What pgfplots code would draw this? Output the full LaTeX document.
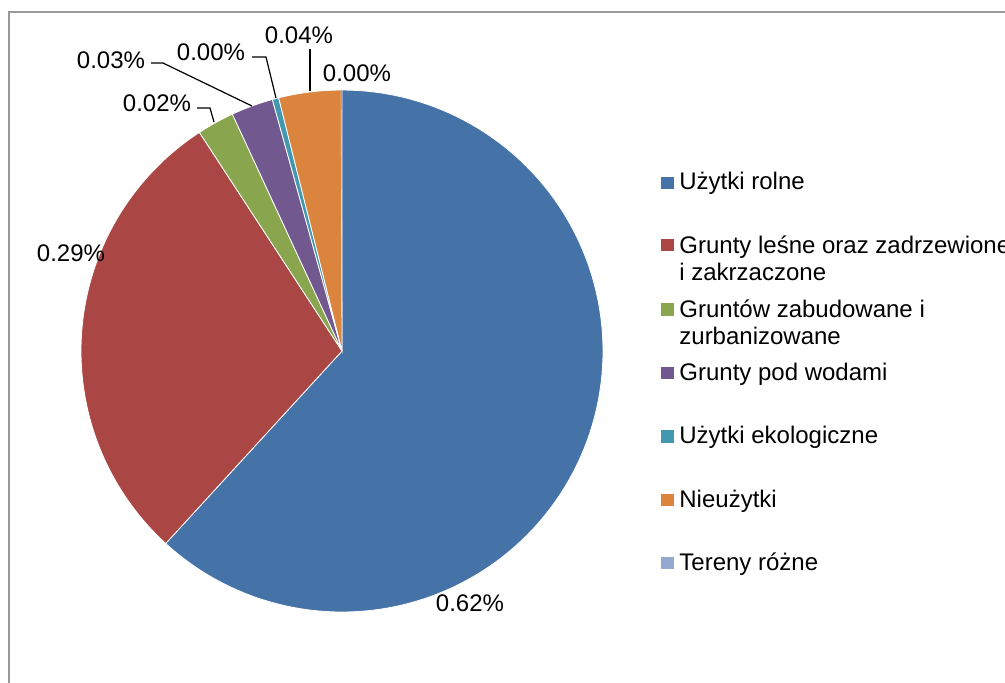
\documentclass[border=0pt]{standalone}
\usepackage{pgfplots}
\pgfplotsset{compat=1.18}
\usepackage{fontspec}
\setmainfont{Liberation Sans}
\definecolor{cA}{HTML}{4572A7}
\definecolor{cB}{HTML}{AA4643}
\definecolor{cC}{HTML}{89A54E}
\definecolor{cD}{HTML}{71588F}
\definecolor{cE}{HTML}{4198AF}
\definecolor{cF}{HTML}{DB843D}
\definecolor{cG}{HTML}{93A9CF}
% shares (percent) of each category
\def\vA{61.8}  % Uzytki rolne
\def\vB{29.0}  % Grunty lesne
\def\vC{2.3}   % zabudowane
\def\vD{2.6}   % pod wodami
\def\vE{0.4}   % ekologiczne
\def\vF{3.85}  % Nieuzytki
\def\vG{0.05}  % Tereny rozne
\pgfmathsetmacro\tA{90}
\pgfmathsetmacro\tB{\tA-3.6*\vA}
\pgfmathsetmacro\tC{\tB-3.6*\vB}
\pgfmathsetmacro\tD{\tC-3.6*\vC}
\pgfmathsetmacro\tE{\tD-3.6*\vD}
\pgfmathsetmacro\tF{\tE-3.6*\vE}
\pgfmathsetmacro\tG{\tF-3.6*\vF}
\pgfmathsetmacro\tH{\tG-3.6*\vG}
\begin{document}
\fontsize{12}{14}\selectfont
\begin{tikzpicture}
\begin{axis}[
  width=502.5pt, height=341pt, scale only axis,
  xmin=0, xmax=1005, ymin=0, ymax=682, y dir=reverse,
  axis lines=none, clip=false,
  every axis plot/.append style={draw=white, line width=0.4pt, samples=120},
]
\addplot[fill=cA, domain=\tB:\tA] ({342+261*cos(x)},{351-261*sin(x)}) -- (axis cs:342,351) -- cycle;
\addplot[fill=cB, domain=\tC:\tB] ({342+261*cos(x)},{351-261*sin(x)}) -- (axis cs:342,351) -- cycle;
\addplot[fill=cC, domain=\tD:\tC] ({342+261*cos(x)},{351-261*sin(x)}) -- (axis cs:342,351) -- cycle;
\addplot[fill=cD, domain=\tE:\tD] ({342+261*cos(x)},{351-261*sin(x)}) -- (axis cs:342,351) -- cycle;
\addplot[fill=cE, domain=\tF:\tE] ({342+261*cos(x)},{351-261*sin(x)}) -- (axis cs:342,351) -- cycle;
\addplot[fill=cF, domain=\tG:\tF] ({342+261*cos(x)},{351-261*sin(x)}) -- (axis cs:342,351) -- cycle;
\addplot[fill=cG, draw=none, domain=\tH:\tG, samples=5] ({342+261*cos(x)},{351-261*sin(x)}) -- (axis cs:342,351) -- cycle;
% leader lines
\addplot[black, line width=0.6pt, draw=black] coordinates {(197,108) (210,108) (214,122)};
\addplot[black, line width=0.6pt, draw=black] coordinates {(151,63) (163,63) (252,106)};
\addplot[black, line width=0.6pt, draw=black] coordinates {(252,57) (266,57) (276,98)};
\addplot[black, line width=0.6pt, draw=black] coordinates {(310,49) (310,91)};
% data labels
\node at (axis cs:470,603) {0.62\%};
\node at (axis cs:71,253) {0.29\%};
\node at (axis cs:157,103) {0.02\%};
\node at (axis cs:111,60) {0.03\%};
\node at (axis cs:211,52) {0.00\%};
\node at (axis cs:299,35) {0.04\%};
\node at (axis cs:357,73) {0.00\%};
% frame
\draw[gray!80, line width=0.8pt] (axis cs:9,700) -- (axis cs:9,12) -- (axis cs:1020,12);
% legend
\fill[cA] (axis cs:661,177) rectangle (axis cs:674,189);
\fill[cB] (axis cs:661,239) rectangle (axis cs:674,251);
\fill[cC] (axis cs:661,303) rectangle (axis cs:674,316);
\fill[cD] (axis cs:661,367) rectangle (axis cs:674,379);
\fill[cE] (axis cs:661,430) rectangle (axis cs:674,443);
\fill[cF] (axis cs:661,494) rectangle (axis cs:674,506);
\fill[cG] (axis cs:661,557) rectangle (axis cs:674,569);
\node[anchor=base west, inner sep=0pt] at (axis cs:679,189) {Użytki rolne};
\node[anchor=base west, inner sep=0pt] at (axis cs:679,253) {Grunty leśne oraz zadrzewione};
\node[anchor=base west, inner sep=0pt] at (axis cs:679,280) {i zakrzaczone};
\node[anchor=base west, inner sep=0pt] at (axis cs:679,317) {Gruntów zabudowane i};
\node[anchor=base west, inner sep=0pt] at (axis cs:679,344) {zurbanizowane};
\node[anchor=base west, inner sep=0pt] at (axis cs:679,380) {Grunty pod wodami};
\node[anchor=base west, inner sep=0pt] at (axis cs:679,443) {Użytki ekologiczne};
\node[anchor=base west, inner sep=0pt] at (axis cs:679,507) {Nieużytki};
\node[anchor=base west, inner sep=0pt] at (axis cs:679,570) {Tereny różne};
\end{axis}
\pgfresetboundingbox
\path[use as bounding box] (0,0) rectangle (502.5pt,341pt);
\end{tikzpicture}
\end{document}
